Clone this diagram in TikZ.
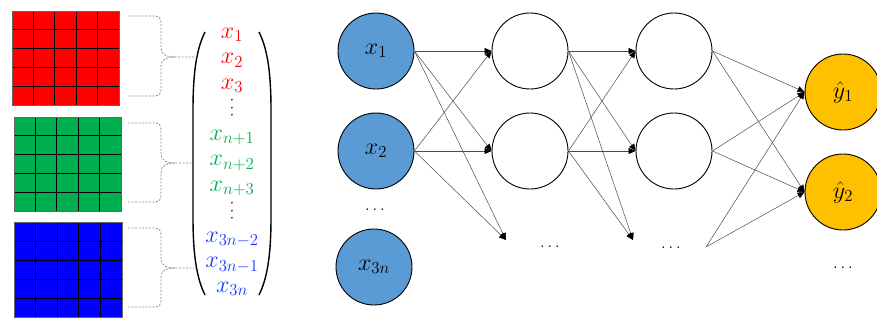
\RequirePackage{fix-cm}
\documentclass[tikz,border=0pt]{standalone}
\usetikzlibrary{arrows.meta}
\definecolor{gridred}{HTML}{FF0000}
\definecolor{gridgreen}{HTML}{00B050}
\definecolor{gridblue}{HTML}{0000FF}
\definecolor{txtred}{HTML}{FF0000}
\definecolor{txtgreen}{HTML}{00B050}
\definecolor{txtblue}{HTML}{1A3CFF}
\definecolor{inblue}{HTML}{5B9BD5}
\definecolor{outgold}{HTML}{FFC000}
\begin{document}
\begin{tikzpicture}[x=1pt,y=-1pt,
 neuron/.style={circle,draw=black,line width=0.9pt,minimum size=76pt,inner sep=0pt,font=\fontsize{24}{28}\selectfont},
 inneuron/.style={neuron,fill=inblue},
 hidneuron/.style={neuron,fill=white},
 outneuron/.style={neuron,fill=outgold},
 conn/.style={draw=black!70,line width=0.5pt,-{Triangle[length=7pt,width=6pt,color=black]}},
 brace/.style={draw=black!45,line width=0.8pt,dash pattern=on 2pt off 1.5pt},
 paren/.style={draw=black,line width=1.4pt},
 vec/.style={font=\fontsize{24}{28}\selectfont,anchor=base,inner sep=0pt},
 vdotlbl/.style={font=\fontsize{17}{20}\selectfont,inner sep=0pt,rotate=90},
 dotlbl/.style={font=\fontsize{17}{20}\selectfont,inner sep=0pt},
 cellline/.style={draw=black,line width=0.9pt},
 gridframe/.style={draw=black!60,line width=0.9pt}
]
\useasboundingbox (0,0) rectangle (877,324);
\clip (0,0) rectangle (877,324);
\fill[white] (0,0) rectangle (877,324);

% ---- colour grids
\foreach \c/\xa/\ya/\xb/\yb in {gridred/12/11/119/105, gridgreen/14/117/121/211, gridblue/14/222/122/317}{
  \fill[\c] (\xa,\ya) rectangle (\xb,\yb);
  \foreach \i in {1,...,4}{
    \draw[cellline] ({\xa+\i*(\xb-\xa)/5},\ya) -- ({\xa+\i*(\xb-\xa)/5},\yb);
    \draw[cellline] (\xa,{\ya+\i*(\yb-\ya)/5}) -- (\xb,{\ya+\i*(\yb-\ya)/5});
  }
  \draw[gridframe] (\xa,\ya) rectangle (\xb,\yb);
}

% ---- dashed braces
\foreach \t/\m/\b in {16/57/96, 123/163/202, 228/268/307}{
  \draw[brace] (128,\t) -- (154,\t) .. controls (159,\t) and (161,{\t+2}) .. (161,{\t+7})
     -- (161,{\m-9}) .. controls (161,{\m-3}) and (166,\m) .. (175,\m) -- (194,\m);
  \draw[brace] (175,\m) .. controls (166,\m) and (161,{\m+3}) .. (161,{\m+9})
     -- (161,{\b-7}) .. controls (161,{\b-2}) and (159,\b) .. (154,\b) -- (128,\b);
}

% ---- parentheses
\draw[paren] (205,32) .. controls (196,50) and (193,75) .. (193,110) -- (193,217)
   .. controls (193,252) and (196,277) .. (205,295);
\draw[paren] (259,32) .. controls (268,50) and (271,75) .. (271,110) -- (271,217)
   .. controls (271,252) and (268,277) .. (259,295);

% ---- vector entries
\node[vec,text=txtred] (v1) at (232,38) {$x_1$};
\node[vec,text=txtred] (v2) at (232,63.5) {$x_2$};
\node[vec,text=txtred] (v3) at (232,89) {$x_3$};
\node[vdotlbl] (vd1) at (232,108) {$\dots$};
\node[vec,text=txtgreen] (v4) at (232,140) {$x_{n+1}$};
\node[vec,text=txtgreen] (v5) at (232,165.5) {$x_{n+2}$};
\node[vec,text=txtgreen] (v6) at (232,191) {$x_{n+3}$};
\node[vdotlbl] (vd2) at (232,211) {$\dots$};
\node[vec,text=txtblue] (v7) at (232,242) {$x_{3n-2}$};
\node[vec,text=txtblue] (v8) at (232,267.5) {$x_{3n-1}$};
\node[vec,text=txtblue] (v9) at (232,292) {$x_{3n}$};

% ---- network nodes
\node[inneuron] (x1) at (376,51) {$x_1$};
\node[inneuron] (x2) at (376,151) {$x_2$};
\node[inneuron] (x3) at (374,267) {$x_{3n}$};
\node[dotlbl] (dx) at (375,210) {$\dots$};
\node[hidneuron] (h1a) at (530,51) {};
\node[hidneuron] (h1b) at (530,151) {};
\node[dotlbl] (dh1) at (550,247) {$\dots$};
\node[hidneuron] (h2a) at (674,51) {};
\node[hidneuron] (h2b) at (674,151) {};
\node[dotlbl] (dh2) at (671,248) {$\dots$};
\node[outneuron] (y1) at (843,92) {$\hat{y}_1$};
\node[outneuron] (y2) at (843,192) {$\hat{y}_2$};
\node[dotlbl] (dy) at (843,268) {$\dots$};
\coordinate (d1) at (506,240);
\coordinate (d2) at (633,240);
\coordinate (d3) at (706,247);

% ---- connectors
\foreach \s in {x1,x2}{
  \foreach \t in {h1a,h1b} \draw[conn] (\s.east) -- (\t.west);
  \draw[conn] (\s.east) -- (d1);
}
\foreach \s in {h1a,h1b}{
  \foreach \t in {h2a,h2b} \draw[conn] (\s.east) -- (\t.west);
  \draw[conn] (\s.east) -- (d2);
}
\foreach \s in {h2a,h2b}{
  \foreach \t in {y1,y2} \draw[conn] (\s.east) -- (\t.west);
}
\draw[conn] (d3) -- (y1.west);
\draw[conn] (d3) -- (y2.west);
\end{tikzpicture}
\end{document}
